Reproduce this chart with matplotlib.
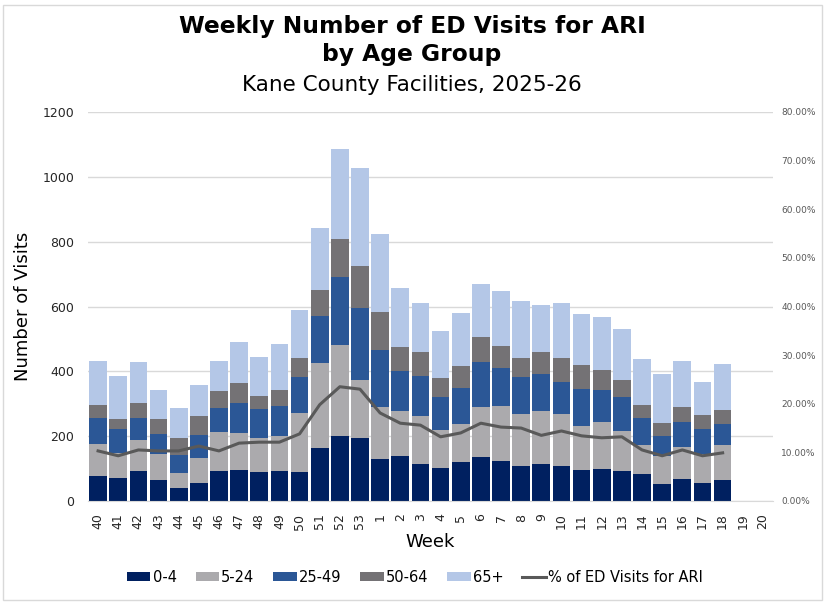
import numpy as np
import matplotlib
matplotlib.use('Agg')
import matplotlib.pyplot as plt
from matplotlib.patches import Rectangle
from matplotlib.ticker import FuncFormatter

plt.rcParams['font.family'] = ['DejaVu Sans']

# week labels, season 2025-26
weeks = ['40', '41', '42', '43', '44', '45', '46', '47', '48', '49', '50', '51', '52', '53',
         '1', '2', '3', '4', '5', '6', '7', '8', '9', '10', '11', '12', '13', '14', '15',
         '16', '17', '18', '19', '20']

# visits by age group (weeks 19-20 not reported yet)
age_0_4 = [77, 71, 93, 65, 40, 56, 93, 96, 89, 93, 89, 164, 200, 194,
           130, 139, 114, 102, 120, 136, 123, 108, 114, 108, 96, 99, 93, 83, 52,
           68, 56, 65]
age_5_24 = [99, 78, 95, 80, 46, 77, 120, 114, 105, 107, 182, 262, 281, 179,
            160, 139, 148, 117, 118, 154, 170, 160, 164, 160, 135, 145, 123, 90, 87,
            99, 89, 108]
age_25_49 = [80, 73, 68, 62, 56, 71, 74, 92, 90, 93, 112, 145, 210, 222,
             176, 123, 124, 102, 111, 139, 117, 115, 114, 99, 115, 98, 105, 83, 61,
             77, 77, 65]
age_50_64 = [40, 31, 46, 46, 52, 58, 52, 62, 40, 49, 58, 80, 117, 130,
             117, 74, 74, 58, 67, 77, 68, 58, 68, 74, 74, 62, 52, 40, 41,
             46, 43, 43]
age_65 = [136, 133, 127, 89, 93, 96, 93, 127, 120, 142, 148, 191, 278, 302,
          241, 182, 151, 145, 164, 163, 170, 176, 145, 170, 157, 164, 158, 142, 151,
          142, 102, 142]

# percent of all ED visits that were for ARI
pct_ari = [10.3, 9.3, 10.5, 10.3, 10.3, 11.3, 10.3, 11.9, 12.1, 12.1, 13.8, 19.8, 23.5, 23.0,
           18.1, 16.0, 15.6, 13.2, 14.0, 16.0, 15.2, 15.0, 13.5, 14.4, 13.4, 13.0, 13.2, 10.5, 9.3,
           10.5, 9.3, 9.9]

groups = [('0-4', age_0_4, '#002060'),
          ('5-24', age_5_24, '#ABAAAD'),
          ('25-49', age_25_49, '#2B5796'),
          ('50-64', age_50_64, '#747275'),
          ('65+', age_65, '#B4C7E7')]

fig = plt.figure(figsize=(8.25, 6.03), dpi=100)
ax = fig.add_axes([88/825, 102/603, 685/825, 389/603])
ax2 = ax.twinx()

x = np.arange(len(age_0_4))
bottom = np.zeros(len(x))
handles = []
for name, vals, col in groups:
    b = ax.bar(x, vals, width=0.88, bottom=bottom, color=col, label=name, zorder=2)
    handles.append(b)
    bottom += np.array(vals)

ln, = ax2.plot(x, pct_ari, color='#595959', lw=2.2, label='% of ED Visits for ARI', zorder=3)
handles.append(ln)

ax.set_xlim(-0.5, len(weeks) - 0.5)
ax.set_ylim(0, 1200)
ax.set_yticks(np.arange(0, 1201, 200))
ax.set_xticks(np.arange(len(weeks)))
ax.set_xticklabels(weeks, rotation=90, fontsize=9, color='#262626')
ax.tick_params(axis='y', labelsize=9, colors='#262626', length=0, pad=10)
ax.tick_params(axis='x', length=0, pad=9)
ax.grid(axis='y', color='#D9D9D9', lw=1, zorder=0)
ax.set_axisbelow(True)
for s in ['top', 'left', 'right']:
    ax.spines[s].set_visible(False)
ax.spines['bottom'].set_color('#D9D9D9')

ax2.set_ylim(0, 80)
ax2.set_yticks(np.arange(0, 81, 10))
ax2.yaxis.set_major_formatter(FuncFormatter(lambda v, p: '%.2f%%' % v))
ax2.tick_params(axis='y', labelsize=6.5, colors='#595959', length=0, pad=6)
for s in ['top', 'left', 'right', 'bottom']:
    ax2.spines[s].set_visible(False)

ax.set_ylabel('Number of Visits', fontsize=13)
ax.yaxis.set_label_coords(-56/685, 0.5)
fig.text(430/825, 1 - 542/603, 'Week', fontsize=13, ha='center', va='center')

fig.text(412/825, 1 - 27/603, 'Weekly Number of ED Visits for ARI', fontsize=16.8,
         fontweight='bold', ha='center', va='center')
fig.text(412/825, 1 - 55/603, 'by Age Group', fontsize=16.8,
         fontweight='bold', ha='center', va='center')
fig.text(412/825, 1 - 85/603, 'Kane County Facilities, 2025-26', fontsize=15.5,
         ha='center', va='center')

fig.legend(handles=handles, loc='center', bbox_to_anchor=(415/825, 1 - 577/603),
           ncol=6, frameon=False, fontsize=10.5, handlelength=1.6, handleheight=0.55,
           handletextpad=0.15, columnspacing=1.3)

fig.patches.append(Rectangle((3/825, 3/603), 819/825, 595/603, transform=fig.transFigure,
                             fill=False, edgecolor='#D9D9D9', lw=1))

fig.savefig('out.png', dpi=100)
